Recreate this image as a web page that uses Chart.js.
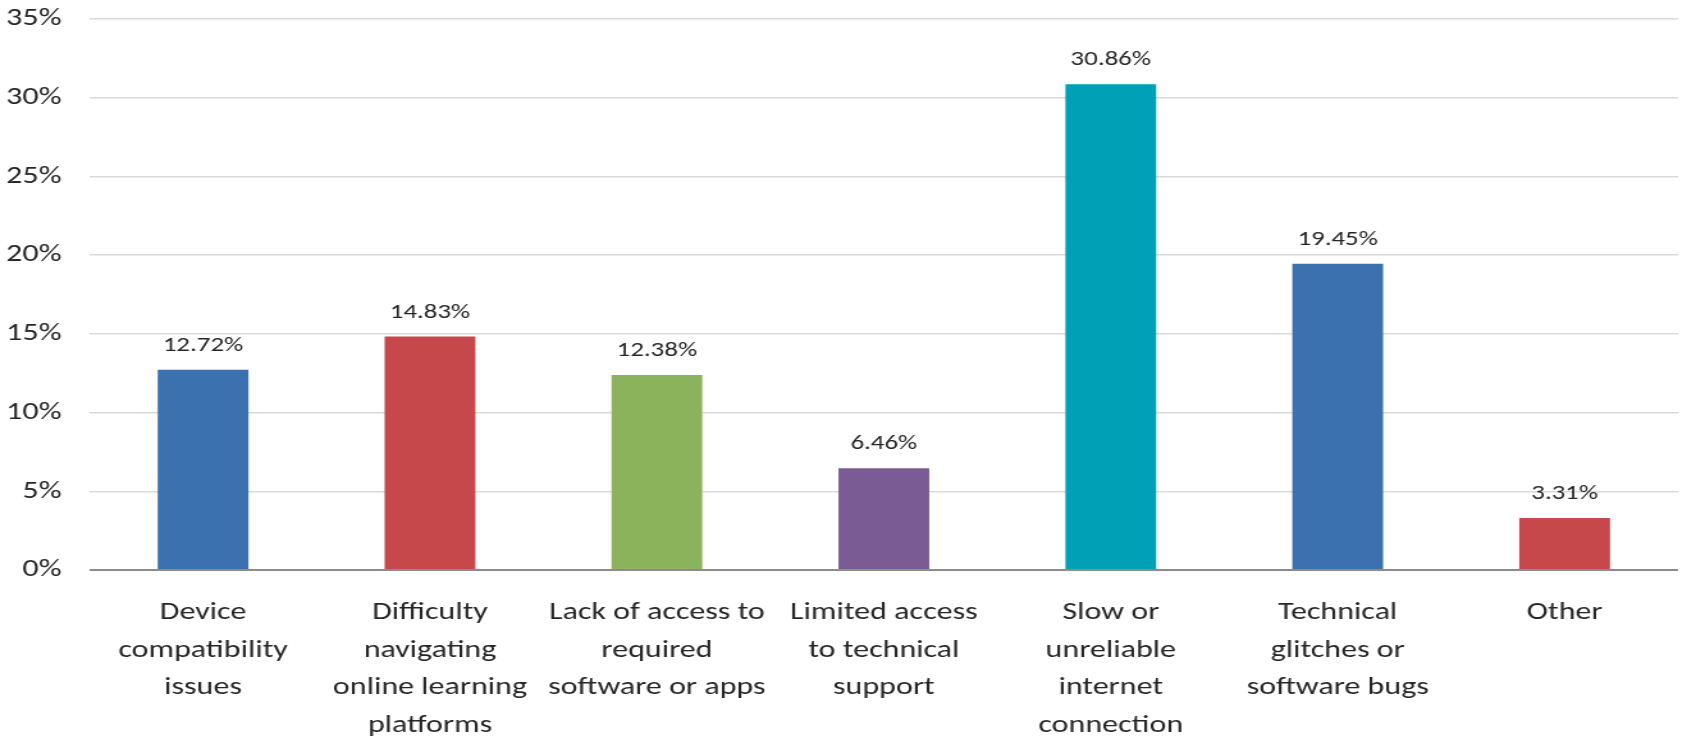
<!DOCTYPE html>
<html>
<head>
<meta charset="utf-8">
<title>Technical challenges</title>
<script src="https://cdn.jsdelivr.net/npm/chart.js@4.4.1/dist/chart.umd.min.js"></script>
<style>
    html, body { margin: 0; padding: 0; background: #fff; overflow: hidden; }
    /* chart is laid out narrower, then widened to the full page width */
    #wrap {
        width: 1315px;
        height: 741px;
        overflow: hidden;
        transform: scaleX(1.28);
        transform-origin: 0 0;
    }
    /* pull the plot up so the top gridline sits near the page edge */
    #inner {
        position: relative;
        top: -18px;
        width: 1315px;
        height: 759px;
    }
</style>
</head>
<body>
<div id="wrap"><div id="inner"><canvas id="challengeChart"></canvas></div></div>
<script>
// Categories and shares (%)
const categories = [
    ['Device', 'compatibility', 'issues'],
    ['Difficulty', 'navigating', 'online learning', 'platforms'],
    ['Lack of access to', 'required', 'software or apps'],
    ['Limited access', 'to technical', 'support'],
    ['Slow or', 'unreliable', 'internet', 'connection'],
    ['Technical', 'glitches or', 'software bugs'],
    ['Other']
];
const shares = [12.72, 14.83, 12.38, 6.46, 30.86, 19.45, 3.31];
const barColors = ['#3b71ae', '#c6484a', '#8bb35b', '#7b5b94', '#00a1b7', '#3b71ae', '#c6484a'];
const yTicks = [0, 5, 10, 15, 20, 25, 30, 35];

const fontFamily = 'Carlito, Lato, "Open Sans", sans-serif';
const textColor = '#262626';

// Value labels above each bar
const valueLabels = {
    id: 'valueLabels',
    afterDatasetsDraw(chart) {
        const ctx = chart.ctx;
        const meta = chart.getDatasetMeta(0);
        ctx.save();
        ctx.font = '21px ' + fontFamily;
        ctx.fillStyle = textColor;
        ctx.textAlign = 'center';
        ctx.textBaseline = 'alphabetic';
        meta.data.forEach((bar, i) => {
            ctx.fillText(shares[i].toFixed(2) + '%', bar.x, bar.y - 19);
        });
        ctx.restore();
    }
};

const ctx = document.getElementById('challengeChart').getContext('2d');
new Chart(ctx, {
    type: 'bar',
    data: {
        labels: categories,
        datasets: [{
            data: shares,
            backgroundColor: barColors,
            borderWidth: 0,
            categoryPercentage: 1.0,
            barPercentage: 0.4
        }]
    },
    options: {
        responsive: true,
        maintainAspectRatio: false,
        animation: false,
        layout: { padding: { top: 0, right: 4, left: 0, bottom: 0 } },
        scales: {
            y: {
                min: 0,
                max: 35,
                afterBuildTicks(axis) {
                    axis.ticks = yTicks.map(v => ({ value: v }));
                },
                afterFit(axis) { axis.width = 70; },
                border: { display: false },
                grid: {
                    color: c => c.tick.value === 0 ? '#8c8c8c' : '#d9d9d9',
                    lineWidth: c => c.tick.value === 0 ? 2 : 1.5,
                    drawTicks: false
                },
                ticks: {
                    padding: 22,
                    color: textColor,
                    font: { family: fontFamily, size: 25 },
                    callback: v => v + '%'
                }
            },
            x: {
                afterFit(axis) { axis.height = 171; },
                border: { display: false },
                grid: { display: false, drawTicks: false },
                ticks: {
                    padding: 24,
                    color: textColor,
                    maxRotation: 0,
                    autoSkip: false,
                    font: { family: fontFamily, size: 25, lineHeight: 1.5 }
                }
            }
        },
        plugins: {
            legend: { display: false },
            tooltip: { enabled: false }
        }
    },
    plugins: [valueLabels]
});
</script>
</body>
</html>
